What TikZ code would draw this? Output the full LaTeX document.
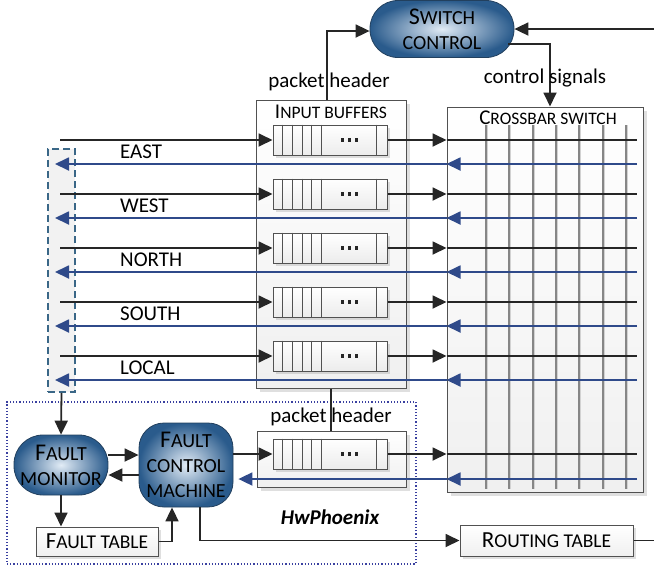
\documentclass[tikz,border=0pt]{standalone}
\usepackage{fontspec}
\setmainfont{Carlito}
\usetikzlibrary{arrows.meta,shadows,calc}
\newcommand\scx[1]{{\fontsize{17.5}{20}\selectfont #1}}
\newcommand\scy[1]{{\fontsize{20}{25}\selectfont #1}}
\newcommand\scz[1]{{\fontsize{19.5}{22}\selectfont #1}}
\definecolor{dk}{HTML}{262626}
\definecolor{bl}{HTML}{2F4A8A}
\definecolor{ovout}{HTML}{2A5B8C}
\definecolor{ovin}{HTML}{E2ECF6}
\definecolor{ovbd}{HTML}{22405E}
\definecolor{dsh}{HTML}{3A6787}
\definecolor{dot}{HTML}{3A40A0}
\begin{document}
\begin{tikzpicture}[x=1pt,y=-1pt,
  font=\fontsize{21}{25}\selectfont,
  arr/.style={draw=dk,line width=1.8,-{Triangle[length=14,width=13]}},
  barr/.style={draw=bl,line width=1.8,-{Triangle[length=14,width=13]}},
  ln/.style={draw=dk,line width=1.8},
  bln/.style={draw=bl,line width=1.8},
  oval/.style={draw=ovbd,line width=0.8,shading=radial,inner color=ovin,outer color=ovout,
    align=center,inner sep=0,font=\fontsize{24}{25}\selectfont},
  bigbox/.style={draw=dk!80,line width=1,top color=white,bottom color=gray!12,
    drop shadow={shadow xshift=4pt,shadow yshift=-4pt,opacity=0.25,fill=gray},inner sep=0},
  tbox/.style={draw=dk!80,line width=1,top color=white,bottom color=gray!12,
    drop shadow={shadow xshift=3pt,shadow yshift=-3pt,opacity=0.25,fill=gray},
    inner sep=0,font=\fontsize{23}{25}\selectfont},
  queue/.style={draw=dk!80,line width=1,top color=white,bottom color=gray!15,
    minimum width=114,minimum height=30,inner sep=0,
    drop shadow={shadow xshift=3pt,shadow yshift=-3pt,opacity=0.25,fill=gray}},
  ttl/.style={fill=white,fill opacity=0.8,text opacity=1,inner sep=1},
  lbl/.style={inner sep=0,anchor=west},
  qdot/.style={fill=dk,draw=none,minimum size=3.2,inner sep=0,shape=rectangle}]
\useasboundingbox (0,0) rectangle (654,566);

% dotted HwPhoenix region
\node[draw=dot,line width=1.2,dotted,minimum width=409,minimum height=162,inner sep=0] (hw) at (211.5,483) {};
\node[font=\fontsize{21}{25}\selectfont\bfseries\itshape] (hwl) at (330,517) {HwPhoenix};

% dashed box
\node[draw=dsh,line width=1.8,dash pattern=on 7pt off 4pt,fill=gray!10,minimum width=27,minimum height=243,inner sep=0] (db) at (61.5,270.5) {};

% switch control
\node[oval,rounded corners=28,minimum width=144,minimum height=57] (sw) at (442,29) {S\scy{WITCH}\\\scy{CONTROL}};

% big boxes
\node[bigbox,minimum width=150,minimum height=288] (ib) at (331,244) {};
\node[ttl] (ibt) at (331,112) {I\scx{NPUT BUFFERS}};
\node[bigbox,minimum width=196,minimum height=385] (cb) at (545,299.5) {};
\node[ttl] (cbt) at (548,118) {C\scx{ROSSBAR SWITCH}};

% crossbar vertical lines
\foreach \xx in {486,509,533,556,579,603,626}{
  \draw[draw=gray!95,line width=1.3] (\xx,125) -- (\xx,489);
  \draw[draw=gray!35,line width=0.8] (\xx+1.6,125) -- (\xx+1.6,489);
}

% rows
\foreach \i/\nm in {0/EAST,1/WEST,2/NORTH,3/SOUTH,4/LOCAL}{
  \pgfmathsetmacro\yb{140+54*\i}
  \pgfmathsetmacro\yl{\yb+24}
  \pgfmathsetmacro\yt{\yb+12}
  \coordinate (in\i) at (60,\yb);
  \coordinate (xo\i) at (637,\yb);
  \coordinate (xb\i) at (637,\yl);
  \coordinate (dl\i) at (55,\yl);
  \node[queue] (q\i) at (330,\yb) {};
  \foreach \d in {10,20,30,39,49,104}{
    \draw[draw=dk!80,line width=0.8] ($(q\i.north west)+(\d,0)$) -- ($(q\i.south west)+(\d,0)$);
  }
  \foreach \k in {-7,0,7}{
    \node[qdot] at ($(q\i.center)+(19.5+\k,0)$) {};
  }
  \draw[arr] (in\i) -- (q\i.west);
  \draw[arr] (q\i.east) -- (q\i.east -| cb.west);
  \draw[ln] (q\i.east -| cb.west) -- (xo\i);
  \draw[barr] (xb\i) -- (xb\i -| cb.west);
  \draw[barr] (xb\i -| cb.west) -- (dl\i);
  \node[lbl] (l\i) at (120,\yt) {\nm};
}

% top connections
\coordinate (ph) at (327,31);
\draw[arr] (ph |- ib.north) -- (ph) -- (ph -| sw.west);
\node[inner sep=0] (phl) at (329,82) {packet header};
\coordinate (cs0) at (508,44);
\coordinate (cs1) at (550,44);
\draw[arr] (cs0) -- (cs1) -- (cs1 |- cb.north);
\node[inner sep=0] (csl) at (545,78) {control signals};
\coordinate (swin) at (654,29);
\draw[arr] (swin) -- (sw.east);

% lower buffer
\node[bigbox,minimum width=149,minimum height=56] (lb) at (331.5,459) {};
\node[queue] (q5) at (330,454) {};
\foreach \d in {10,20,30,39,49,104}{
  \draw[draw=dk!80,line width=0.8] ($(q5.north west)+(\d,0)$) -- ($(q5.south west)+(\d,0)$);
}
\foreach \k in {-7,0,7}{
  \node[qdot] at ($(q5.center)+(19.5+\k,0)$) {};
}
\draw[ln] (ib.south) -- (ib.south |- lb.north);
\node[inner sep=0] (phl2) at (331,417) {packet header};
\coordinate (xo5) at (637,454);
\coordinate (xb5) at (637,479);

% fault nodes
\node[oval,rounded corners=29,minimum width=94,minimum height=60] (fm) at (61,465) {F\scy{AULT}\\\scy{MONITOR}};
\node[oval,rounded corners=25,minimum width=94,minimum height=84] (fcm) at (186,465) {F\scy{AULT}\\\scy{CONTROL}\\\scy{MACHINE}};
\node[tbox,minimum width=122,minimum height=29] (ft) at (97,541.5) {F\scz{AULT TABLE}};
\node[tbox,minimum width=173,minimum height=31] (rt) at (546.5,540.5) {R\scz{OUTING TABLE}};

\draw[arr] (db.south) -- (fm.north);
\draw[arr] ([yshift=10pt]fm.east) -- ([yshift=10pt]fm.east -| fcm.west);
\draw[arr] ([yshift=-10pt]fcm.west) -- ([yshift=-10pt]fcm.west -| fm.east);
\draw[arr] (fm.south) -- (fm.south |- ft.north);
\draw[arr] (ft.east) -| ([xshift=-14pt]fcm.south);
\draw[arr] ([xshift=14pt]fcm.south) |- (rt.west);
\coordinate (rtout) at (654,540.5);
\draw[ln] (rt.east) -- (rtout);

\draw[arr] (fcm.east |- q5.west) -- (q5.west);
\draw[arr] (q5.east) -- (q5.east -| cb.west);
\draw[ln] (q5.east -| cb.west) -- (xo5);
\draw[barr] (xb5) -- (xb5 -| cb.west);
\draw[barr] (xb5 -| cb.west) -- ([xshift=5pt]xb5 -| fcm.east);
\end{tikzpicture}
\end{document}
